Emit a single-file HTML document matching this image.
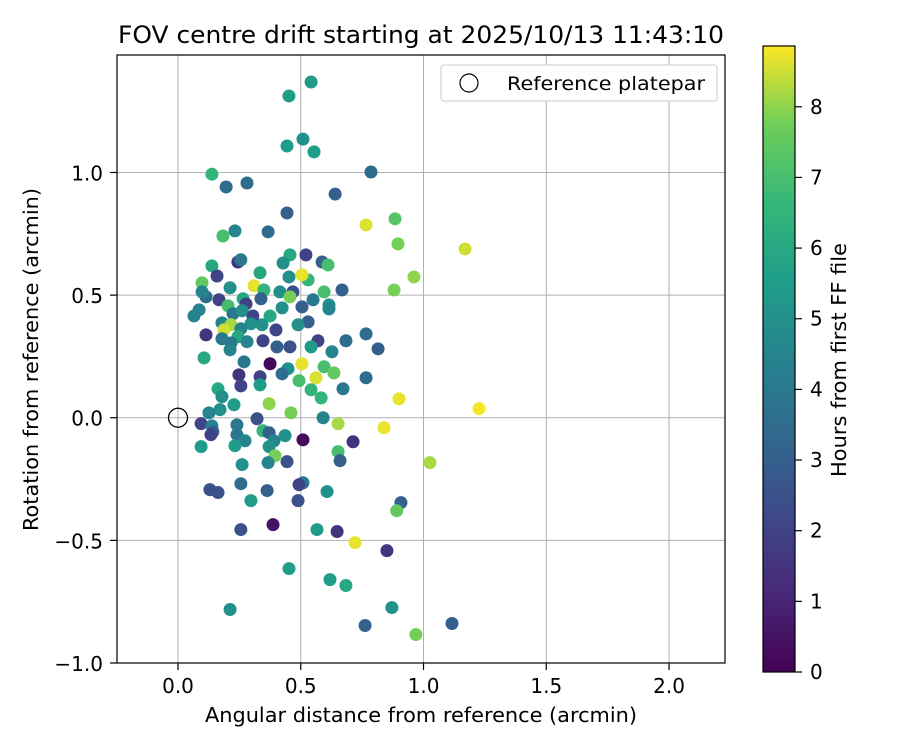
<!DOCTYPE html>
<html><head><meta charset="utf-8"><style>
body{margin:0;background:#fff;}
svg text{font-family:"DejaVu Sans","Liberation Sans",sans-serif;fill:#000;}
</style></head><body>
<svg id="chart" width="900" height="750" xmlns="http://www.w3.org/2000/svg">
<defs>
<linearGradient id="vir" x1="0" y1="1" x2="0" y2="0">
<stop offset="0" stop-color="#440154"/><stop offset="0.125" stop-color="#482878"/><stop offset="0.25" stop-color="#3e4989"/><stop offset="0.375" stop-color="#31688e"/><stop offset="0.5" stop-color="#26828e"/><stop offset="0.625" stop-color="#1f9e89"/><stop offset="0.75" stop-color="#35b779"/><stop offset="0.875" stop-color="#6ece58"/><stop offset="1" stop-color="#fde725"/>
</linearGradient>
</defs>
<g id="grid"></g>
<g id="points"></g>
<rect x="117" y="55" width="608" height="608" fill="none" stroke="#000" stroke-width="1.2"/>
<g id="axes"></g>
<text x="118" y="43" font-size="24" textLength="606" lengthAdjust="spacingAndGlyphs">FOV centre drift starting at 2025/10/13 11:43:10</text>
<text x="205" y="722" font-size="20" textLength="432" lengthAdjust="spacingAndGlyphs">Angular distance from reference (arcmin)</text>
<text transform="translate(38,531) rotate(-90)" font-size="20" textLength="343" lengthAdjust="spacingAndGlyphs">Rotation from reference (arcmin)</text>
<g>
<rect x="441" y="65" width="276" height="36" rx="3" fill="#fff" stroke="#ccc"/>
<circle cx="469" cy="83" r="9" fill="none" stroke="#000" stroke-width="1.2"/>
<text x="507" y="90" font-size="19" textLength="198" lengthAdjust="spacingAndGlyphs">Reference platepar</text>
</g>
<rect x="763" y="46" width="32" height="626" fill="url(#vir)" stroke="#000" stroke-width="1.2"/>
<g id="cbar"></g>
<text transform="translate(846,477) rotate(-90)" font-size="20" textLength="234" lengthAdjust="spacingAndGlyphs">Hours from first FF file</text>
</svg>
<script>
const xTicks=[0,0.5,1,1.5,2];
const xTickLabels=["0.0","0.5","1.0","1.5","2.0"];
const yTicks=[-1,-0.5,0,0.5,1];
const yTickLabels=["\u22121.0","\u22120.5","0.0","0.5","1.0"];
const cTicks=[0,1,2,3,4,5,6,7,8];
const xs=[0.452,0.542,0.509,0.444,0.554,0.786,0.138,0.196,0.281,0.640,0.444,0.766,0.884,0.232,0.367,0.183,0.896,1.169,0.456,0.521,0.244,0.428,0.587,0.256,0.138,0.611,0.159,0.334,0.452,0.530,0.505,0.961,0.310,0.098,0.212,0.350,0.668,0.880,0.415,0.468,0.595,0.114,0.167,0.265,0.456,0.338,0.550,0.098,0.204,0.277,0.505,0.615,0.086,0.065,0.224,0.261,0.305,0.424,0.615,0.375,0.530,0.297,0.179,0.216,0.187,0.256,0.342,0.399,0.489,0.114,0.244,0.179,0.216,0.281,0.346,0.403,0.456,0.570,0.684,0.766,0.815,0.542,0.627,0.212,0.106,0.269,0.375,0.505,0.448,0.595,0.562,0.635,0.248,0.334,0.424,0.493,0.256,0.334,0.766,0.672,0.163,0.542,0.583,0.900,0.179,0.371,0.228,0.171,1.226,0.460,0.126,0.322,0.591,0.094,0.652,0.138,0.240,0.839,0.346,0.142,0.371,0.240,0.134,0.436,0.391,0.273,0.509,0.713,0.094,0.232,0.371,0.395,0.652,1.026,0.660,0.367,0.444,0.509,0.493,0.261,0.256,0.130,0.163,0.363,0.607,0.489,0.297,0.908,0.891,0.256,0.566,0.648,0.387,0.721,0.851,0.452,0.619,0.684,0.212,0.871,0.762,1.116,0.969];
const ys=[1.312,1.369,1.136,1.108,1.084,1.002,0.993,0.941,0.957,0.912,0.835,0.786,0.811,0.762,0.758,0.741,0.709,0.688,0.664,0.664,0.635,0.631,0.635,0.644,0.619,0.623,0.578,0.591,0.574,0.562,0.583,0.574,0.538,0.550,0.530,0.521,0.521,0.521,0.513,0.513,0.513,0.493,0.481,0.485,0.493,0.485,0.481,0.513,0.456,0.464,0.452,0.460,0.440,0.415,0.424,0.436,0.415,0.448,0.444,0.415,0.391,0.383,0.387,0.379,0.358,0.363,0.379,0.358,0.379,0.338,0.330,0.322,0.305,0.310,0.314,0.289,0.289,0.314,0.314,0.342,0.281,0.289,0.269,0.277,0.244,0.228,0.220,0.220,0.200,0.208,0.163,0.183,0.175,0.167,0.179,0.151,0.130,0.134,0.163,0.118,0.118,0.114,0.081,0.077,0.086,0.057,0.053,0.033,0.037,0.020,0.020,-0.004,0.000,-0.024,-0.024,-0.033,-0.029,-0.041,-0.053,-0.057,-0.061,-0.069,-0.069,-0.073,-0.094,-0.094,-0.090,-0.098,-0.118,-0.114,-0.118,-0.155,-0.138,-0.183,-0.175,-0.183,-0.179,-0.265,-0.273,-0.191,-0.269,-0.293,-0.305,-0.297,-0.301,-0.338,-0.338,-0.346,-0.379,-0.456,-0.456,-0.464,-0.436,-0.509,-0.542,-0.615,-0.660,-0.684,-0.782,-0.774,-0.847,-0.839,-0.884];
const hours=[5.5,5.5,5,5.5,5.5,3.5,6.5,3.5,3.5,3,3,8.6,7.3,4.5,3.5,7,7.8,8.5,6,2,1.5,5,3,4,6,7,2,6,5,6.5,8.7,8,8.7,7.5,5,6.5,3,7.8,5,2.5,7,3.5,2,6,7.8,3,4,4.5,7,2,3,5,4.5,4.5,4,5,2,5,4.5,6,3,5,4.5,8.2,8.5,4.5,5,2,5,1.5,6,4,4,4.5,2,3,2.5,2,3.5,3.5,3,5.5,4.5,4.5,6,4,0.2,8.7,5,7,8.6,7.5,1.5,2,3.5,7,2,5.5,3.5,4,6,6.5,6.5,8.7,5,8,5.5,5,8.8,7.8,4.5,2.5,4.5,2,8.2,4.5,4,8.7,6.5,3,3,4,2,5,4.5,4.5,0.3,1.5,5.5,5.5,5,7.8,7,8.2,3,4.5,2.5,4,2,5,3.5,2.5,2.5,3,5,2.5,5.5,3,7.5,2.5,5.5,1.5,0.5,8.7,1.5,5.5,5.5,6,5,5,3,3,7.8];
const cMax=8.86;
const X0=117,X1=725,Y0=663,Y1=55;
const xMin=-0.2485,xMax=2.228,yMin=-1,yMax=1.479;
const sx=v=>X0+(v-xMin)/(xMax-xMin)*(X1-X0);
const sy=v=>Y0-(v-yMin)/(yMax-yMin)*(Y0-Y1);
const sc=v=>672-v/cMax*626;
const NS="http://www.w3.org/2000/svg";
const stops=[[68,1,84],[72,40,120],[62,73,137],[49,104,142],[38,130,142],[31,158,137],[53,183,121],[110,206,88],[253,231,37]];
function vir(h){let t=Math.max(0,Math.min(1,h/cMax))*8;let i=Math.min(7,Math.floor(t));let f=t-i;const a=stops[i],b=stops[i+1];return `rgb(${a.map((c,k)=>Math.round(c+(b[k]-c)*f)).join(',')})`;}
function mk(tag,attrs,parent){const e=document.createElementNS(NS,tag);for(const k in attrs)e.setAttribute(k,attrs[k]);parent.appendChild(e);return e;}
const grid=document.getElementById('grid'),axes=document.getElementById('axes'),pts=document.getElementById('points'),cb=document.getElementById('cbar');
xTicks.forEach((v,i)=>{const x=sx(v);
const g=mk('line',{x1:x,x2:x,y1:Y1,y2:Y0,stroke:'#b0b0b0','stroke-width':1},grid);


mk('line',{x1:x,x2:x,y1:Y0,y2:Y0+7,stroke:'#000','stroke-width':1.2},axes);
const t=mk('text',{x:x,y:Y0+30,'font-size':20,'text-anchor':'middle'},axes);t.textContent=xTickLabels[i];

});
yTicks.forEach((v,i)=>{const y=sy(v);
const g=mk('line',{x1:X0,x2:X1,y1:y,y2:y,stroke:'#b0b0b0','stroke-width':1},grid);


mk('line',{x1:X0-7,x2:X0,y1:y,y2:y,stroke:'#000','stroke-width':1.2},axes);
const t=mk('text',{x:X0-14,y:y+8,'font-size':20,'text-anchor':'end'},axes);t.textContent=yTickLabels[i];

});
xs.forEach((v,i)=>{const c=mk('circle',{cx:sx(v),cy:sy(ys[i]),r:6.5,fill:vir(hours[i])},pts);

});
const ref=mk('circle',{cx:sx(0),cy:sy(0),r:9.5,fill:'none',stroke:'#000','stroke-width':1.3},pts);


cTicks.forEach(v=>{const y=sc(v);
mk('line',{x1:795,x2:802,y1:y,y2:y,stroke:'#000','stroke-width':1.2},cb);
const t=mk('text',{x:810,y:y+7,'font-size':20},cb);t.textContent=v;

});
</script>
</body></html>
